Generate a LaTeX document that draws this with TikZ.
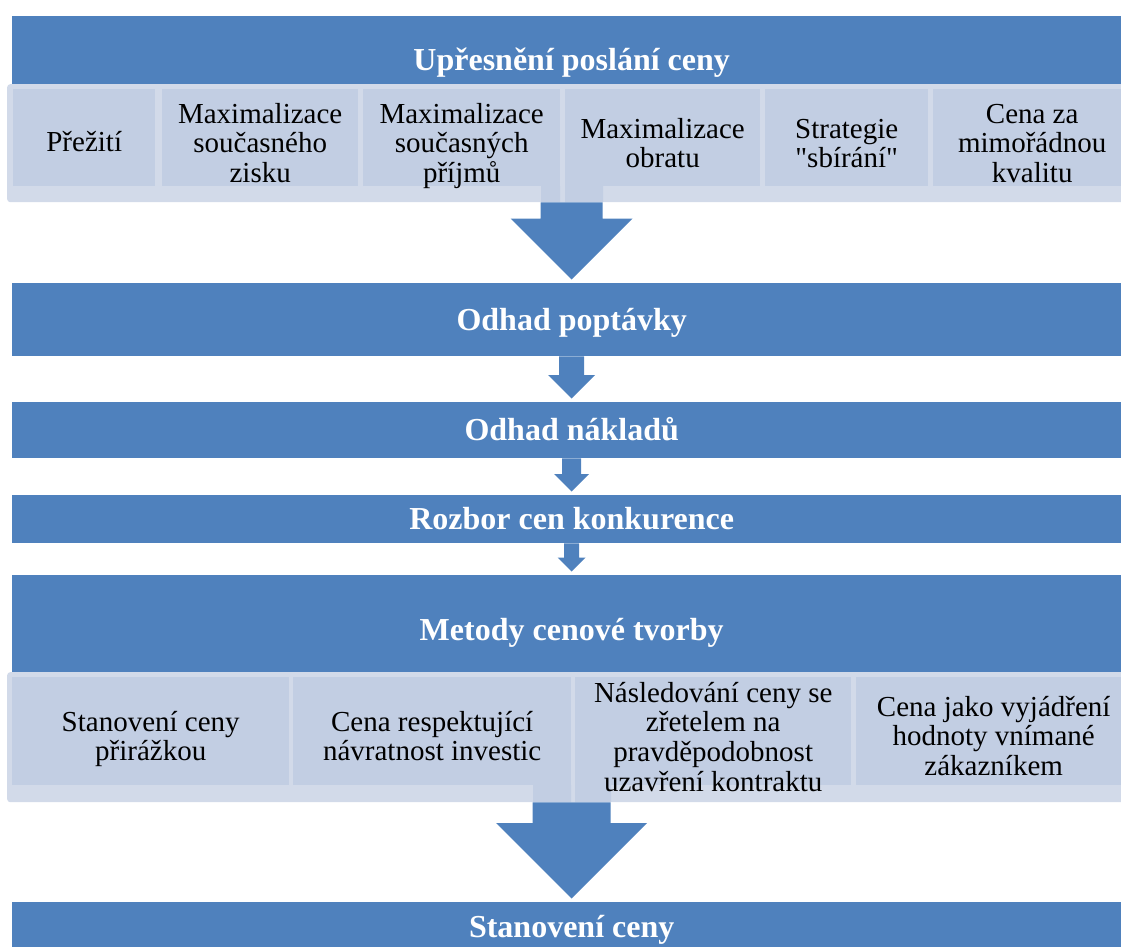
\documentclass[tikz,border=0pt]{standalone}
\usepackage{fontspec}
\setmainfont{Liberation Serif}[Ligatures=TeXOff]
\usetikzlibrary{calc}

\definecolor{bandblue}{HTML}{4F81BD}
\definecolor{cellfill}{HTML}{C2CEE3}
\definecolor{panelfill}{HTML}{D2DAE9}

% centred lines with a fixed baseline pitch; the box baseline is the first line
\newcommand\celltext[2]{%
  \vtop{\baselineskip=#1\lineskiplimit=-100pt\lineskip=0pt
    \halign{\hfil##\hfil\cr#2\crcr}}}

% downward block arrow from the bottom of #1 to just above the top of #2
% #3 = half width of the shaft, #4 = half width (and length) of the head
\newcommand\blockarrow[4]{%
  \fill[bandblue] let \p1=(#1.south), \p2=(#2.north) in
    (\x2-#3pt,\y1) -- (\x2+#3pt,\y1) -- (\x2+#3pt,\y2+#4pt+3.5pt)
    -- (\x2+#4pt,\y2+#4pt+3.5pt) -- (\x2,\y2+3.5pt)
    -- (\x2-#4pt,\y2+#4pt+3.5pt) -- (\x2-#3pt,\y2+#4pt+3.5pt) -- cycle;}

\tikzset{
  bandbox/.style={fill=bandblue, text=white, inner sep=0pt, anchor=north west,
    font=\fontsize{32}{34}\selectfont\bfseries, minimum width=1119pt,
    text height=21pt, text depth=0pt},
  panelbox/.style={fill=panelfill, inner sep=0pt, anchor=north west,
    rounded corners=3pt, minimum width=1124pt},
  cellbox/.style={fill=cellfill, text=black, inner sep=0pt, anchor=north west,
    font=\fontsize{29}{29}\selectfont}
}

\begin{document}
\begin{tikzpicture}[x=1pt,y=-1pt]
\useasboundingbox (0,0) rectangle (1121,947);

% process stages
\node[bandbox, minimum height=87pt] (b1) at (12,16)  {Upřesnění poslání ceny};
\node[bandbox, minimum height=73pt] (b2) at (12,283) {Odhad poptávky};
\node[bandbox, minimum height=56pt] (b3) at (12,402) {Odhad nákladů};
\node[bandbox, minimum height=48pt] (b4) at (12,495) {Rozbor cen konkurence};
\node[bandbox, minimum height=109pt] (b5) at (12,575) {Metody cenové tvorby};
\node[bandbox, minimum height=49pt] (b6) at (12,902) {Stanovení ceny};

% detail panels under the first and the fifth stage
\node[panelbox, minimum height=118pt] (p1) at (7,84)  {};
\node[panelbox, minimum height=130pt] (p2) at (7,672) {};

% arrow shafts seen through the lower edge of the panels
\fill[cellfill] (541,186) rectangle (560,202) (565,186) rectangle (603,202);
\fill[cellfill] (533,785) rectangle (571,802) (575,785) rectangle (611,802);

% pricing objectives
\node[cellbox, minimum width=142pt, text height=62pt, text depth=35pt] (c11) at (13,89)
  {\celltext{29.5pt}{Přežití}};
\node[cellbox, minimum width=196pt, text height=34pt, text depth=63pt] (c12) at (162,89)
  {\celltext{29.5pt}{Maximalizace\cr současného\cr zisku}};
\node[cellbox, minimum width=197pt, text height=34pt, text depth=63pt] (c13) at (363,89)
  {\celltext{29.5pt}{Maximalizace\cr současných\cr příjmů}};
\node[cellbox, minimum width=195pt, text height=49pt, text depth=48pt] (c14) at (565,89)
  {\celltext{29.5pt}{Maximalizace\cr obratu}};
\node[cellbox, minimum width=163pt, text height=49pt, text depth=48pt] (c15) at (765,89)
  {\celltext{29.5pt}{Strategie\cr "sbírání"}};
\node[cellbox, minimum width=198pt, text height=34pt, text depth=63pt] (c16) at (933,89)
  {\celltext{29.5pt}{Cena za\cr mimořádnou\cr kvalitu}};

% pricing methods
\node[cellbox, minimum width=277pt, text height=54pt, text depth=54pt] (c21) at (12,677)
  {\celltext{29.7pt}{Stanovení ceny\cr přirážkou}};
\node[cellbox, minimum width=278pt, text height=54pt, text depth=54pt] (c22) at (293,677)
  {\celltext{29.7pt}{Cena respektující\cr návratnost investic}};
\node[cellbox, minimum width=276pt, text height=25pt, text depth=83pt] (c23) at (575,677)
  {\celltext{29.7pt}{Následování ceny se\cr zřetelem na\cr pravděpodobnost\cr uzavření kontraktu}};
\node[cellbox, minimum width=275pt, text height=39pt, text depth=69pt] (c24) at (856,677)
  {\celltext{29.7pt}{Cena jako vyjádření\cr hodnoty vnímané\cr zákazníkem}};

% flow arrows
\blockarrow{p1}{b2}{31}{61}
\blockarrow{b2}{b3}{12.5}{23.5}
\blockarrow{b3}{b4}{9.5}{17.5}
\blockarrow{b4}{b5}{7.5}{14}
\blockarrow{p2}{b6}{39}{75.5}
\end{tikzpicture}
\end{document}
